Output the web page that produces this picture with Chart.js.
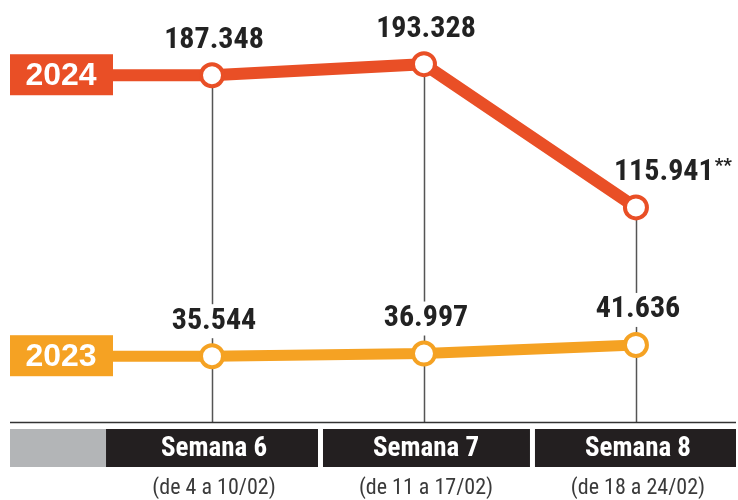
<!DOCTYPE html>
<html>
<head>
<meta charset="utf-8">
<script src="https://cdn.jsdelivr.net/npm/chart.js@4/dist/chart.umd.min.js"></script>
<style>
  html, body { margin: 0; padding: 0; background: #fff; }
  canvas { display: block; }
</style>
</head>
<body>
<canvas id="grafico" width="738" height="500"></canvas>
<script>
// Données
const semanas = [6, 7, 8];
const semanaLabels = ['Semana 6', 'Semana 7', 'Semana 8'];
const periodos = ['(de 4 a 10/02)', '(de 11 a 17/02)', '(de 18 a 24/02)'];
const anos = ['2024', '2023'];
const valores2024 = [187348, 193328, 115941];
const valores2023 = [35544, 36997, 41636];
const notas2024 = ['', '', '**'];
const notas2023 = ['', '', ''];

const COULEURS = { rouge: '#E94F26', orange: '#F5A223', noir: '#231F20', gris: '#B3B5B7', texte: '#222222' };
const NARROW = '"Liberation Sans Narrow", "Roboto Condensed", "DejaVu Sans Condensed", sans-serif';

// 187348 -> "187.348"
function formate(v) {
  return String(v).replace(/\B(?=(\d{3})+(?!\d))/g, '.');
}

function serie(valeurs) {
  return semanas.map((s, i) => ({ x: s, y: valeurs[i] }));
}

const traits = {
  id: 'traits',
  beforeDatasetsDraw(chart) {
    const { ctx, chartArea } = chart;
    const x = chart.scales.x, y = chart.scales.y;
    ctx.save();
    // lignes verticales depuis les points 2024
    ctx.strokeStyle = '#555';
    ctx.lineWidth = 1.5;
    valores2024.forEach((v, i) => {
      const px = Math.round(x.getPixelForValue(semanas[i])) + 0.5;
      ctx.beginPath();
      ctx.moveTo(px, y.getPixelForValue(v));
      ctx.lineTo(px, chartArea.bottom);
      ctx.stroke();
    });
    // ligne de base
    ctx.strokeStyle = '#333';
    ctx.lineWidth = 1.5;
    ctx.beginPath();
    ctx.moveTo(chartArea.left, chartArea.bottom + 0.5);
    ctx.lineTo(chartArea.right, chartArea.bottom + 0.5);
    ctx.stroke();

    // étiquettes d'année avec le trait jusqu'au premier point
    chart.data.datasets.forEach((ds, d) => {
      const py = y.getPixelForValue(ds.data[0].y);
      const px0 = x.getPixelForValue(ds.data[0].x);
      ctx.strokeStyle = ds.borderColor;
      ctx.lineWidth = ds.borderWidth;
      ctx.beginPath();
      ctx.moveTo(chartArea.left + 50, py);
      ctx.lineTo(px0, py);
      ctx.stroke();
      ctx.fillStyle = ds.borderColor;
      ctx.fillRect(chartArea.left, py - 21, 103, 41);
      ctx.fillStyle = '#fff';
      ctx.font = 'bold 32px "Liberation Sans", Arial, sans-serif';
      ctx.textAlign = 'center';
      ctx.textBaseline = 'middle';
      ctx.fillText(anos[d], chartArea.left + 51, py + 1);
    });

    // bandeau du bas
    const top = chartArea.bottom + 7, h = 38;
    const bornes = [x.getPixelForValue(5.5), x.getPixelForValue(6.5), x.getPixelForValue(7.5), chartArea.right];
    ctx.fillStyle = COULEURS.gris;
    ctx.fillRect(chartArea.left, top, bornes[0] - chartArea.left, h);
    semanas.forEach((s, i) => {
      const g = bornes[i] + (i > 0 ? 5 : 0);
      const dr = bornes[i + 1];
      ctx.fillStyle = COULEURS.noir;
      ctx.fillRect(g, top, dr - g, h);
      const cx = x.getPixelForValue(s);
      ctx.fillStyle = '#fff';
      ctx.font = 'bold 27px ' + NARROW;
      ctx.textAlign = 'center';
      ctx.textBaseline = 'middle';
      ctx.fillText(semanaLabels[i], cx + 2, top + h / 2 + 1);
      ctx.fillStyle = '#3a3a3a';
      ctx.font = '22px ' + NARROW;
      ctx.fillText(periodos[i], cx + 2, top + h + 21);
    });
    ctx.restore();
  },
  afterDatasetsDraw(chart) {
    const { ctx } = chart;
    const x = chart.scales.x, y = chart.scales.y;
    const notas = [notas2024, notas2023];
    ctx.save();
    ctx.textBaseline = 'middle';
    chart.data.datasets.forEach((ds, d) => {
      ds.data.forEach((p, i) => {
        const px = x.getPixelForValue(p.x);
        const py = y.getPixelForValue(p.y) - 35;
        const txt = formate(p.y);
        ctx.font = 'bold 30px ' + NARROW;
        const w = ctx.measureText(txt).width;
        const nota = notas[d][i];
        let gauche = px - w / 2 + 2;
        if (nota) gauche = px - 22;
        // fond blanc seulement là où passe une ligne verticale
        if (d > 0) {
          ctx.fillStyle = '#fff';
          ctx.fillRect(gauche - 2, py - 17, w + 4, 34);
        }
        ctx.fillStyle = COULEURS.texte;
        ctx.textAlign = 'left';
        ctx.fillText(txt, gauche, py);
        if (nota) {
          ctx.font = 'bold 19px ' + NARROW;
          ctx.fillText(nota, gauche + w + 1, py - 6);
        }
      });
    });
    ctx.restore();
  }
};

const ctx = document.getElementById('grafico').getContext('2d');
new Chart(ctx, {
  type: 'line',
  data: {
    datasets: [{
      label: anos[0],
      data: serie(valores2024),
      borderColor: COULEURS.rouge,
      borderWidth: 12,
      pointRadius: 11,
      pointBorderWidth: 4,
      pointBackgroundColor: '#fff',
      pointBorderColor: COULEURS.rouge,
      tension: 0,
    },
    {
      label: anos[1],
      data: serie(valores2023),
      borderColor: COULEURS.orange,
      borderWidth: 11,
      pointRadius: 11,
      pointBorderWidth: 4,
      pointBackgroundColor: '#fff',
      pointBorderColor: COULEURS.orange,
      tension: 0,
    }]
  },
  options: {
    responsive: false,
    animation: false,
    layout: { autoPadding: false, padding: { left: 10, right: 2, top: 0, bottom: 78 } },
    scales: {
      x: { type: 'linear', min: 5.047, max: 8.472, display: false },
      y: { min: 0, max: 228000, display: false }
    },
    plugins: { legend: { display: false }, tooltip: { enabled: false } }
  },
  plugins: [traits]
});
</script>
</body>
</html>
